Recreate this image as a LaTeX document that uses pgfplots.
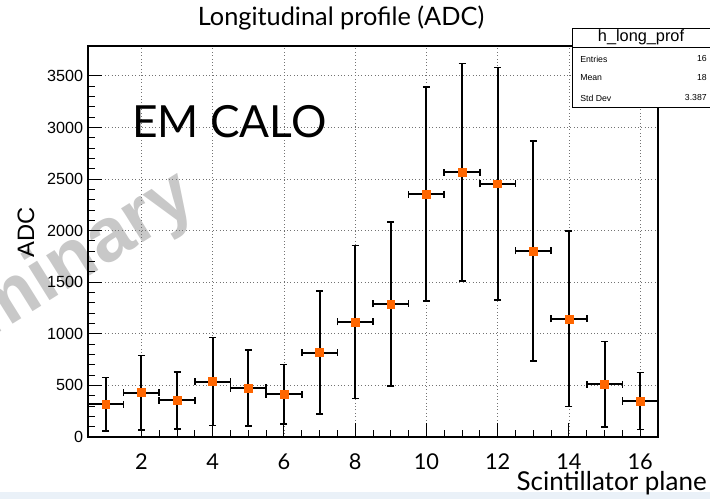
\documentclass[border=0pt]{standalone}
\usepackage{fontspec}
\setmainfont{Liberation Sans}
\newfontfamily\lato{Lato}
\usepackage{pgfplots}
\pgfplotsset{compat=1.18}
\definecolor{rootorange}{HTML}{FF6600}
\definecolor{stripblue}{HTML}{EAF1F8}
\definecolor{wmgray}{HTML}{C8C8C8}

\begin{document}
\begin{tikzpicture}
% page = 710 x 499 px, 1 px = 0.025 cm
\useasboundingbox (0,0) rectangle (17.75cm,12.475cm);
\fill[stripblue] (0,0) rectangle (17.75cm,0.175cm);

% watermark, cut off by the page edge
\node[anchor=base east, rotate=32, text=wmgray, inner sep=0pt,
      font=\fontsize{54}{54}\selectfont\bfseries] at (5.0cm,7.3cm) {Preliminary};

\begin{axis}[
    at={(2.2cm,1.55cm)}, anchor=south west,
    scale only axis,
    width=14.25cm, height=9.775cm,
    xmin=0.5, xmax=16.5,
    ymin=0, ymax=3790,
    xtick={2,4,...,16},
    ytick={0,500,...,3500},
    minor x tick num=3,
    minor y tick num=4,
    tick pos=left,
    tick align=inside,
    major tick length=0.35cm,
    minor tick length=0.18cm,
    tick style={black, line width=0.7pt},
    axis line style={black, line width=0.8pt},
    grid=major,
    major grid style={dotted, black!55, line width=0.6pt},
    /pgf/number format/1000 sep={},
    /pgf/number format/assume math mode=true,
    yticklabel style={font=\fontsize{11.5}{12}\selectfont},
    xticklabel style={font=\lato\fontsize{15.5}{16}\selectfont,
        anchor=base, inner sep=0pt, yshift=-0.82cm},
]
\addplot[only marks, mark=square*, mark size=2.8pt,
    mark options={draw=rootorange, fill=rootorange},
    error bars/.cd,
        x dir=both, x fixed=0.5,
        y dir=both, y explicit,
        error mark=|,
        error bar style={black, line width=1.5pt},
        error mark options={black, line width=1.2pt, mark size=2.5pt, rotate=0}]
table[x=x, y=y, y error=e] {
x  y     e
1  317   259
2  430   360
3  356   276
4  537   427
5  475   368
6  414   290
7  818   598
8  1115  741
9  1290  796
10 2354  1038
11 2567  1054
12 2454  1128
13 1804  1067
14 1145  850
15  511  414
16  349  275
};
\end{axis}

% overlaid texts
\node[font=\lato\fontsize{18}{19}\selectfont] at (8.525cm,12.025cm) {Longitudinal profile (ADC)};
\node[anchor=west, inner sep=0pt, font=\lato\fontsize{31.5}{33}\selectfont] at (3.3cm,9.425cm) {EM CALO};
\node[rotate=90, font=\fontsize{16.9}{18}\selectfont] at (0.65cm,6.675cm) {ADC};
\node[anchor=base east, inner sep=0pt, font=\lato\fontsize{18.5}{19}\selectfont] at (17.675cm,0.21cm) {Scintillator plane};

% stats box
\filldraw[fill=white, draw=black, line width=0.6pt] (14.3cm,9.8cm) rectangle (17.8cm,11.775cm);
\draw[black, line width=0.6pt] (14.3cm,11.3cm) -- (17.8cm,11.3cm);
\node[font=\fontsize{11.6}{12}\selectfont] at (16.025cm,11.54cm) {h\_long\_prof};
\begin{scope}[every node/.style={inner sep=0pt, font=\fontsize{6.2}{7}\selectfont}]
\node[anchor=west] at (14.5cm,11.0cm) {Entries};
\node[anchor=east] at (17.675cm,11.0cm) {16};
\node[anchor=west] at (14.5cm,10.525cm) {Mean};
\node[anchor=east] at (17.675cm,10.525cm) {18};
\node[anchor=west] at (14.5cm,10.025cm) {Std Dev};
\node[anchor=east] at (17.675cm,10.025cm) {3.387};
\end{scope}
\end{tikzpicture}
\end{document}
